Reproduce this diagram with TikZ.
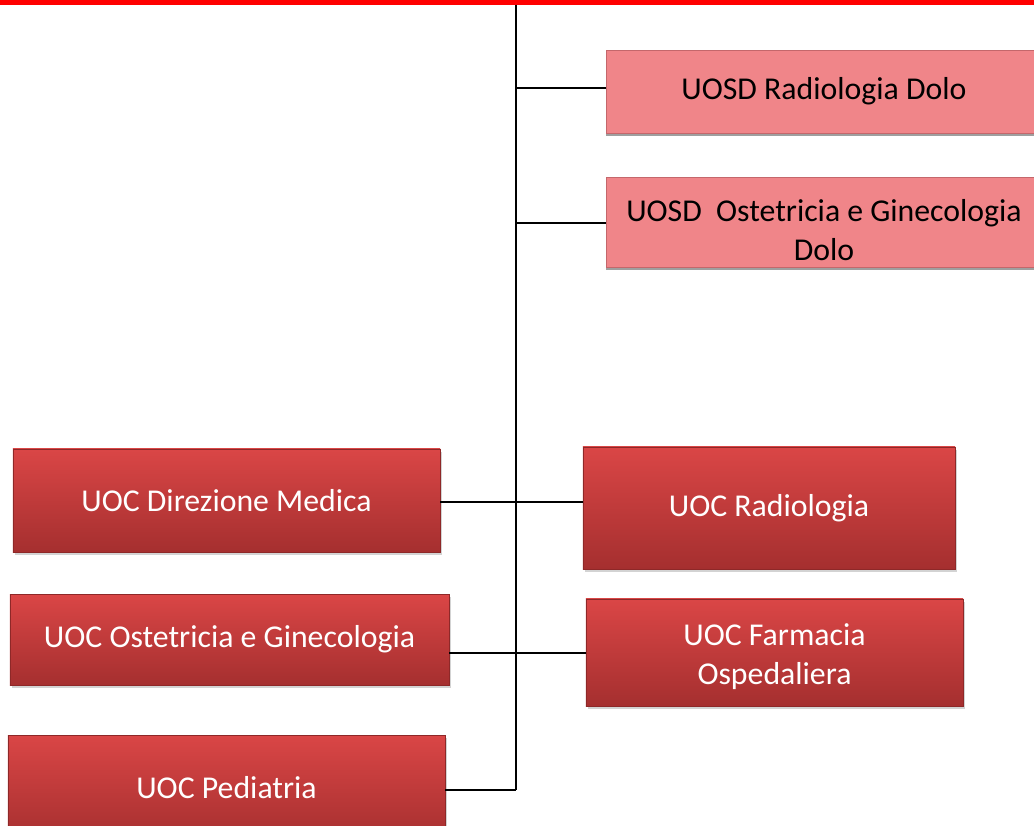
\documentclass[tikz,border=0pt]{standalone}
\usepackage{fontspec}
\setmainfont{Carlito}
\usetikzlibrary{shadows}
\definecolor{uoctop}{HTML}{DA4646}
\definecolor{uocbot}{HTML}{A52F2F}
\definecolor{uocedge}{HTML}{8E2828}
\definecolor{uosdfill}{HTML}{F08589}
\definecolor{uosdedge}{HTML}{C4676B}
\tikzset{
  uoc/.style={draw=uocedge, line width=0.5pt, top color=uoctop, bottom color=uocbot,
    text=white, align=center, inner sep=0pt, font=\fontsize{22.6}{27.5}\selectfont,
    drop shadow={shadow xshift=0.06cm, shadow yshift=-0.07cm, opacity=0.35}},
  uosd/.style={draw=uosdedge, line width=0.5pt, fill=uosdfill, text=black,
    align=center, inner sep=0pt, font=\fontsize{22.6}{27.5}\selectfont,
    drop shadow={shadow xshift=0cm, shadow yshift=-0.07cm, fill=gray!75, opacity=1}},
  link/.style={line width=1.2pt, black}
}
\begin{document}
\begin{tikzpicture}[x=0.025cm, y=-0.025cm]
\useasboundingbox (0,0) rectangle (1034,825);
% top box, only its lower edge shows
\node[draw=red, line width=0.15cm, minimum width=27cm, minimum height=3cm, anchor=south] (dir) at (516,4.5) {};

% UOSD
\node[uosd, minimum width=10.9cm, minimum height=2.075cm] (rdolo) at (824,91.5) {UOSD Radiologia Dolo};
\node[uosd, minimum width=10.9cm, minimum height=2.25cm, text height=55pt] (odolo) at (824,222) {UOSD~~Ostetricia e Ginecologia\\Dolo};

% UOC left
\node[uoc, minimum width=10.675cm, minimum height=2.575cm] (dm) at (226.5,500.5) {UOC Direzione Medica};
\node[uoc, minimum width=10.975cm, minimum height=2.275cm] (og) at (229.5,639.5) {UOC Ostetricia e Ginecologia};
\node[uoc, minimum width=10.925cm, minimum height=2.65cm] (ped) at (226.5,788) {UOC Pediatria};

% UOC right
\node[uoc, minimum width=9.3cm, minimum height=3.05cm] (rad) at (769,508) {UOC Radiologia};
\node[uoc, minimum width=9.425cm, minimum height=2.675cm, text height=49pt] (farm) at (774.5,652.5) {UOC Farmacia\\Ospedaliera};

\coordinate (j1) at (516,88);
\coordinate (j2) at (516,223);
\coordinate (j3) at (516,502);
\coordinate (j4) at (516,653);
\coordinate (j5) at (516,790);

\path[draw,link] (dir.south) -- (j5);
\path[draw,link] (j1) -- (j1 -| rdolo.west);
\path[draw,link] (j2) -- (j2 -| odolo.west);
\path[draw,link] (j3 -| dm.east) -- (j3 -| rad.west);
\path[draw,link] (j4 -| og.east) -- (j4 -| farm.west);
\path[draw,link] (j5 -| ped.east) -- (j5);
\end{tikzpicture}
\end{document}
